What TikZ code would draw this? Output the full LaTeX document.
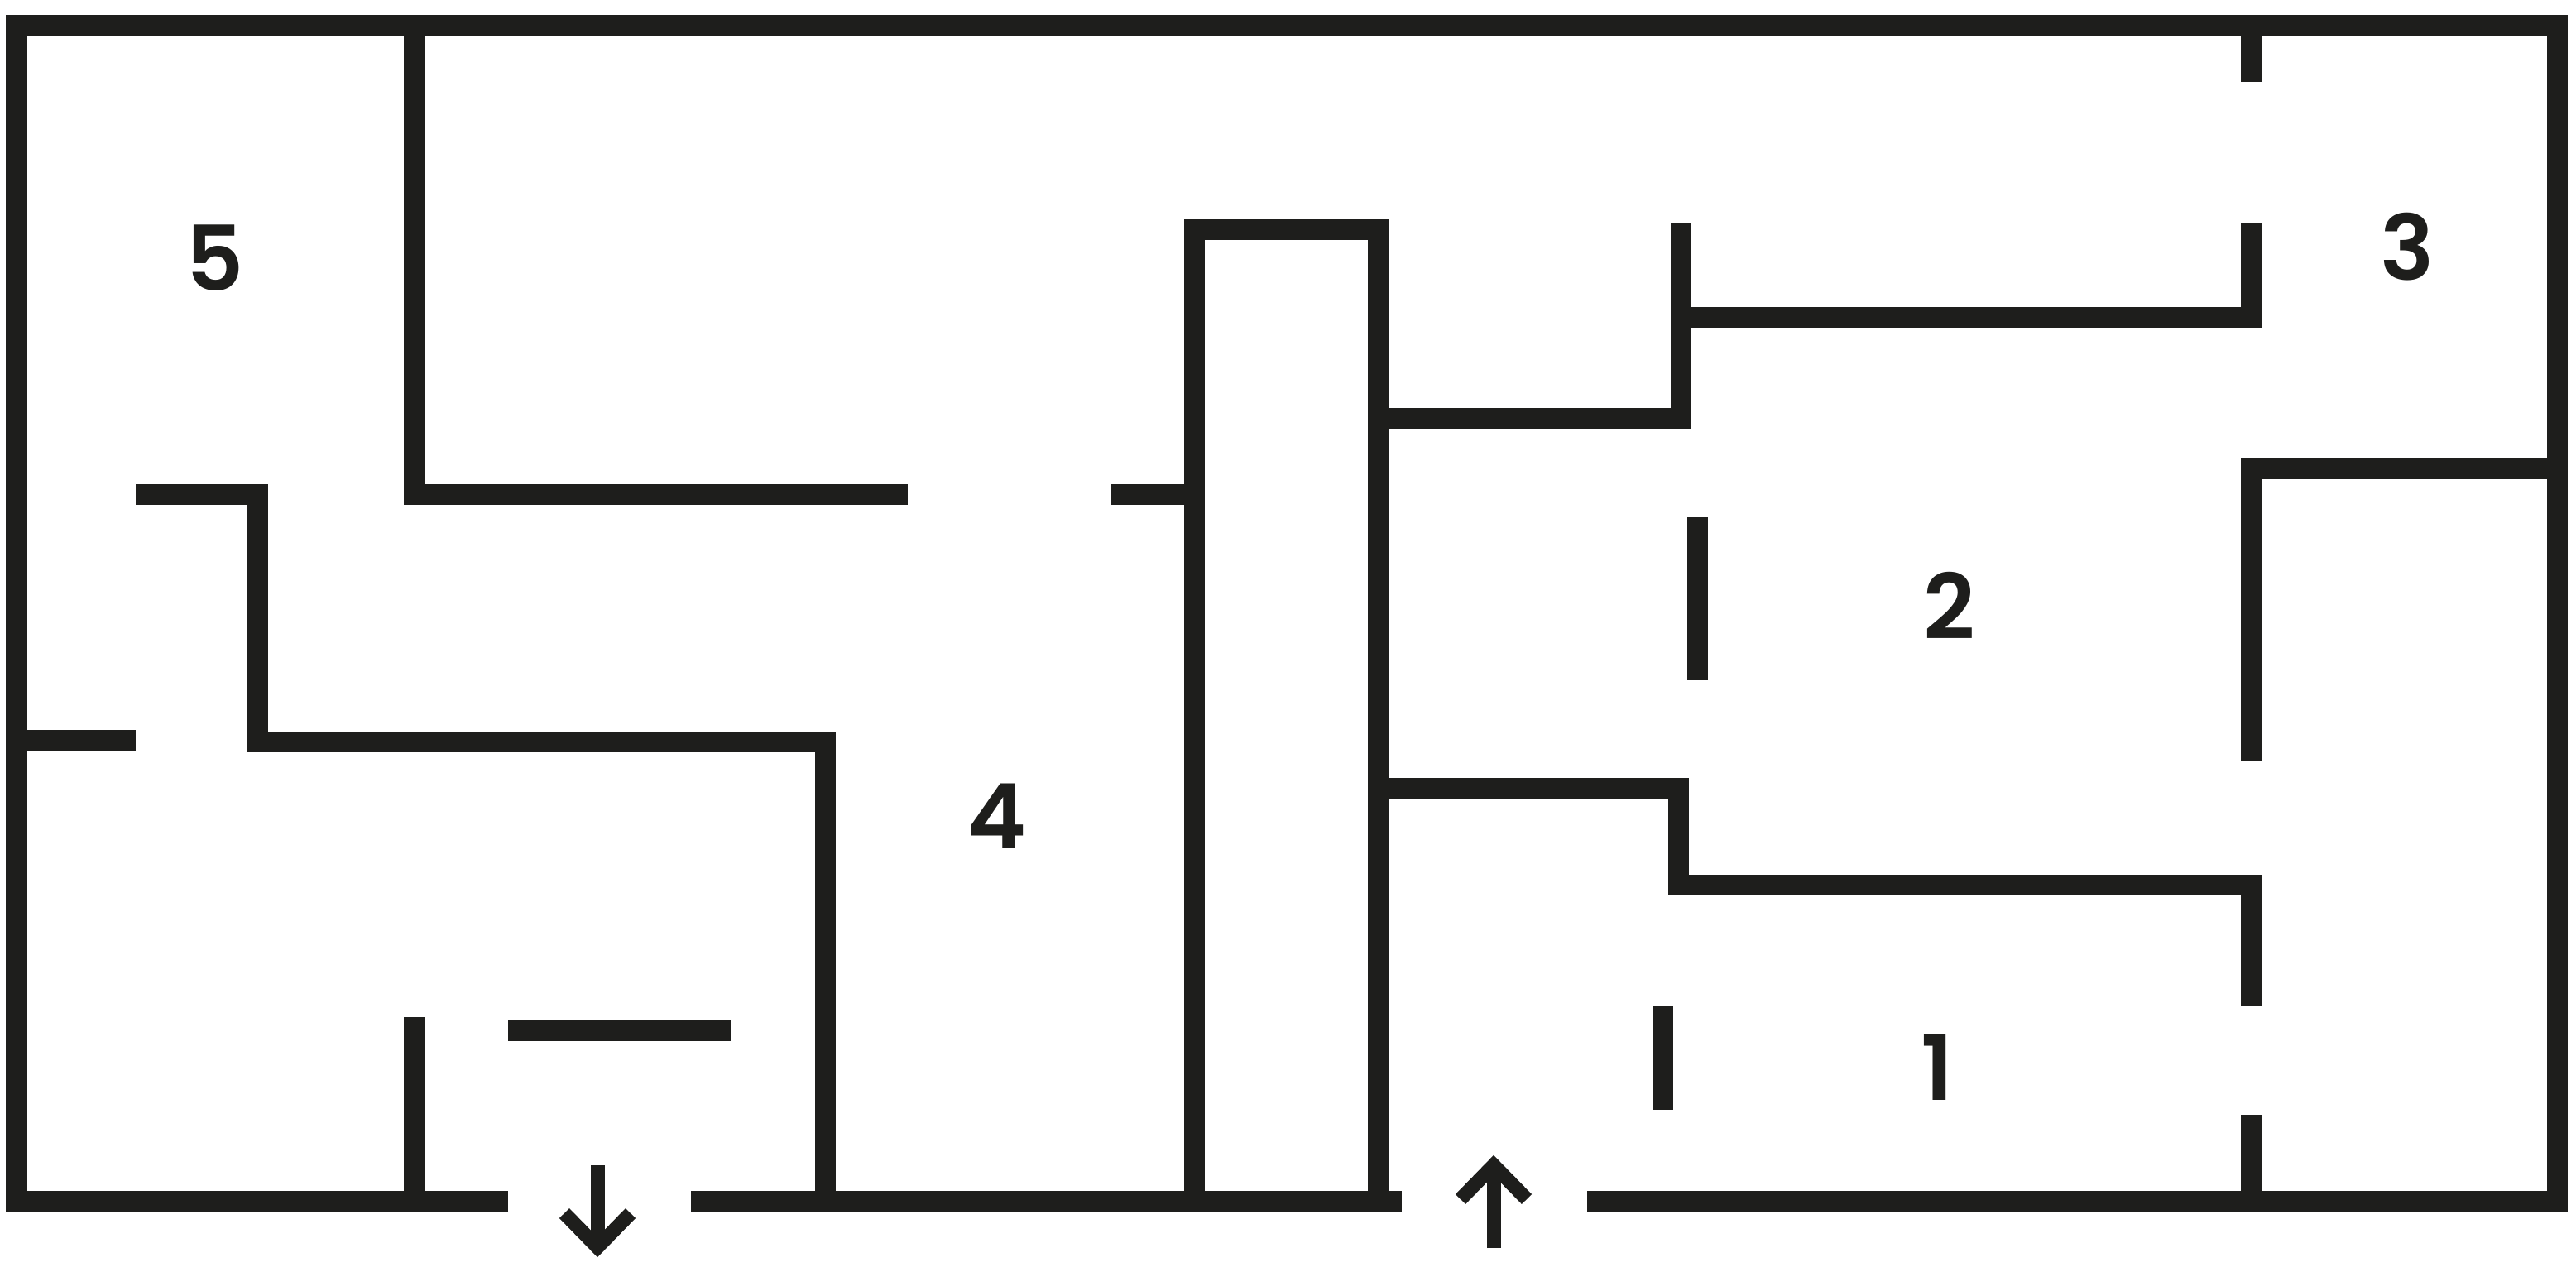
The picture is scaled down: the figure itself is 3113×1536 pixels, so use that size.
\documentclass[tikz,border=0pt]{standalone}
\usepackage{fontspec}
\setmainfont{Poppins}
\newfontfamily\roomfont{Poppins SemiBold}
\definecolor{wallc}{RGB}{30,30,28}

\begin{document}
\begin{tikzpicture}[x=0.01cm,y=-0.01cm,
  wall/.style={line width=0.25cm, draw=wallc, line join=miter, line cap=butt},
  pathline/.style={line width=0.17cm, draw=wallc, line join=miter, line cap=butt},
  room/.style={font=\fontsize{31}{31}\selectfont\roomfont, text=wallc, inner sep=0pt}]
\useasboundingbox (0,0) rectangle (3113,1536);

% outer walls
\draw[wall] (614,1451) -- (20,1451) -- (20,31) -- (3090,31) -- (3090,1451) -- (1918,1451);
\draw[wall] (835,1451) -- (1694,1451);

% column
\draw[wall] (1443,1451) -- (1443,277) -- (1665,277) -- (1665,1451);
\draw[wall] (1342,597) -- (1443,597);

% left part
\draw[wall] (500,31) -- (500,597) -- (1097,597);
\draw[wall] (164,597) -- (311,597) -- (311,896) -- (997,896) -- (997,1451);
\draw[wall] (20,894) -- (164,894);
\draw[wall] (500,1229) -- (500,1451);
\draw[wall] (614,1245) -- (883,1245);

% right part
\draw[wall] (1665,505) -- (2031,505) -- (2031,269);
\draw[wall] (2031,383) -- (2720,383) -- (2720,269);
\draw[wall] (2720,31) -- (2720,99);
\draw[wall] (3090,566) -- (2720,566) -- (2720,919);
\draw[wall] (2051,625) -- (2051,822);
\draw[wall] (1665,952) -- (2028,952) -- (2028,1069) -- (2720,1069) -- (2720,1216);
\draw[wall] (2720,1347) -- (2720,1451);
\draw[wall] (2009,1216) -- (2009,1341);

% exit and entrance
\coordinate (outtop) at (722,1408);
\coordinate (outtip) at (722,1507);
\coordinate (intip) at (1805,1408);
\coordinate (inbot) at (1805,1508);
\draw[pathline] (outtop) -- (outtip);
\draw[pathline] (outtip) ++(-40,-41) -- (outtip) -- ++(40,-41);
\draw[pathline] (inbot) -- (intip);
\draw[pathline] (intip) ++(-40,41) -- (intip) -- ++(40,41);

\node[room] (r5) at (260,312) {5};
\node[room] (r3) at (2909,298) {3};
\node[room] (r2) at (2356,732) {2};
\node[room] (r4) at (1205,986) {4};
\node[room] (r1) at (2341,1290) {1};
\end{tikzpicture}
\end{document}
